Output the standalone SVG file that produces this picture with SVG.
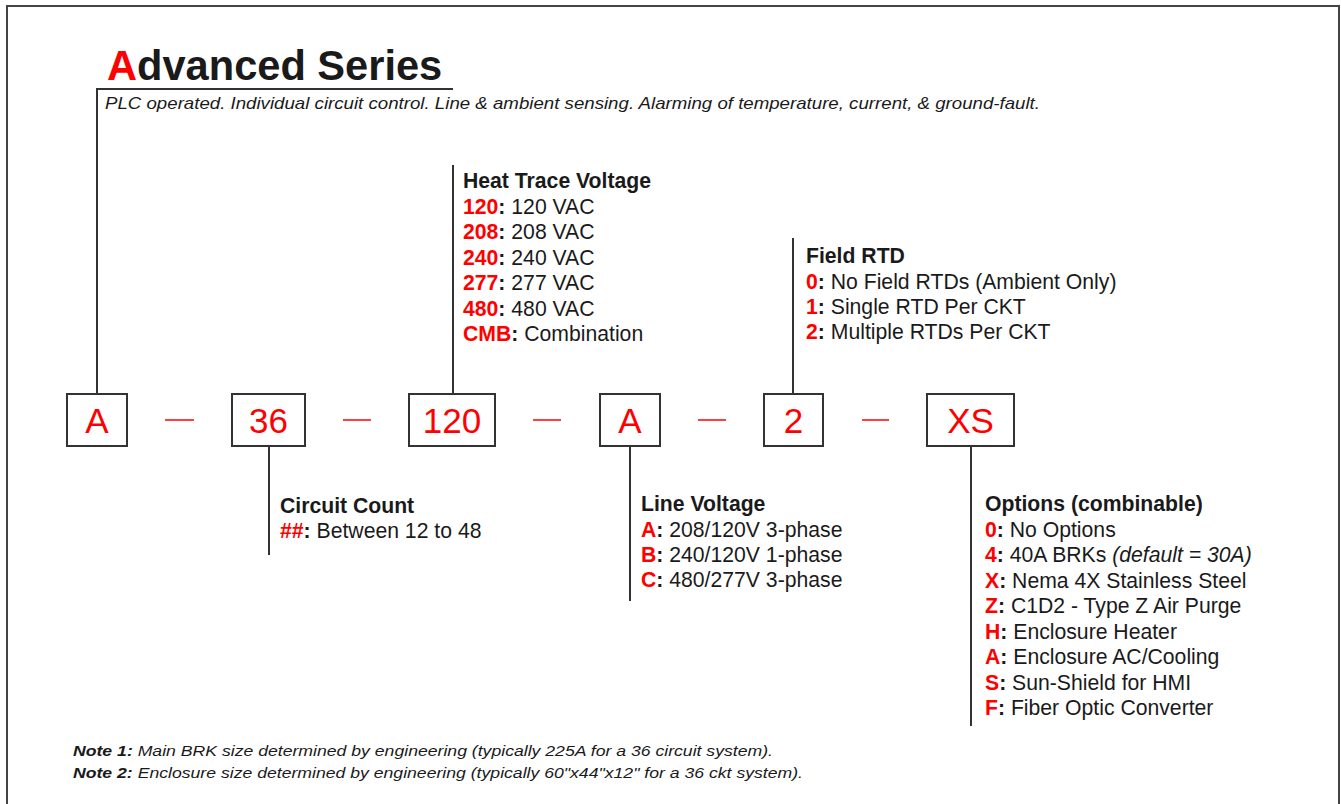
<svg xmlns="http://www.w3.org/2000/svg" width="1341" height="804" viewBox="0 0 1341 804">
<style>
text{font-family:"Liberation Sans",Arial,sans-serif;fill:#1a1a1a}
.r{fill:#ff0000}
.b{font-weight:bold}
.h{font-size:21.2px;font-weight:bold}
.t{font-size:21.2px}
.box rect{fill:#fff;stroke:#333;stroke-width:2}
.box text{font-size:35px;fill:#ff0000;text-anchor:middle}
.ln{stroke:#333;stroke-width:2;fill:none}
.dash{stroke:#ff0000;stroke-width:1.5}
</style>
<rect width="1341" height="804" fill="#fff"/>
<rect x="7" y="6" width="1332" height="820" fill="none" stroke="#444" stroke-width="2"/>
<g id="title">
<text x="107" y="80" style="font-size:41.6px;font-weight:bold"><tspan class="r">A</tspan>dvanced Series</text>
<text x="105" y="109" style="font-size:16.5px;font-style:italic" textLength="935" lengthAdjust="spacingAndGlyphs">PLC operated. Individual circuit control. Line &amp; ambient sensing. Alarming of temperature, current, &amp; ground-fault.</text>
</g>
<g id="connectors">
<polyline class="ln" points="453,89 97,89 97,395"/>
<line class="ln" x1="453" y1="165" x2="453" y2="395"/>
<line class="ln" x1="793" y1="238" x2="793" y2="395"/>
<line class="ln" x1="269" y1="446" x2="269" y2="555"/>
<line class="ln" x1="630" y1="446" x2="630" y2="601"/>
<line class="ln" x1="971" y1="446" x2="971" y2="726"/>
<line class="dash" x1="165" y1="420" x2="194" y2="420"/>
<line class="dash" x1="343" y1="420" x2="371" y2="420"/>
<line class="dash" x1="533" y1="420" x2="561" y2="420"/>
<line class="dash" x1="698" y1="420" x2="726" y2="420"/>
<line class="dash" x1="862" y1="420" x2="889" y2="420"/>
</g>
<g id="box-a" class="box"><rect x="67" y="394" width="60" height="52"/><text x="97" y="433">A</text></g>
<g id="box-36" class="box"><rect x="232" y="394" width="73" height="52"/><text x="268.5" y="433">36</text></g>
<g id="box-120" class="box"><rect x="409" y="394" width="86" height="52"/><text x="452" y="433">120</text></g>
<g id="box-a2" class="box"><rect x="600" y="394" width="60" height="52"/><text x="630" y="433">A</text></g>
<g id="box-2" class="box"><rect x="764" y="394" width="59" height="52"/><text x="793.5" y="433">2</text></g>
<g id="box-xs" class="box"><rect x="927" y="394" width="87" height="52"/><text x="970.5" y="433">XS</text></g>
<g id="heat-trace-voltage">
<text x="463" y="188" class="h">Heat Trace Voltage</text>
<text x="463" y="213.5" class="t"><tspan class="r b">120</tspan><tspan class="b">:</tspan> 120 VAC</text>
<text x="463" y="239" class="t"><tspan class="r b">208</tspan><tspan class="b">:</tspan> 208 VAC</text>
<text x="463" y="264.5" class="t"><tspan class="r b">240</tspan><tspan class="b">:</tspan> 240 VAC</text>
<text x="463" y="290" class="t"><tspan class="r b">277</tspan><tspan class="b">:</tspan> 277 VAC</text>
<text x="463" y="315.5" class="t"><tspan class="r b">480</tspan><tspan class="b">:</tspan> 480 VAC</text>
<text x="463" y="341" class="t"><tspan class="r b">CMB</tspan><tspan class="b">:</tspan> Combination</text>
</g>
<g id="field-rtd">
<text x="806" y="263" class="h">Field RTD</text>
<text x="806" y="289" class="t"><tspan class="r b">0</tspan><tspan class="b">:</tspan> No Field RTDs (Ambient Only)</text>
<text x="806" y="314" class="t"><tspan class="r b">1</tspan><tspan class="b">:</tspan> Single RTD Per CKT</text>
<text x="806" y="339" class="t"><tspan class="r b">2</tspan><tspan class="b">:</tspan> Multiple RTDs Per CKT</text>
</g>
<g id="circuit-count">
<text x="280" y="513" class="h">Circuit Count</text>
<text x="280" y="538" class="t"><tspan class="r b">##</tspan><tspan class="b">:</tspan> Between 12 to 48</text>
</g>
<g id="line-voltage">
<text x="641" y="511" class="h">Line Voltage</text>
<text x="641" y="536.5" class="t"><tspan class="r b">A</tspan><tspan class="b">:</tspan> 208/120V 3-phase</text>
<text x="641" y="562" class="t"><tspan class="r b">B</tspan><tspan class="b">:</tspan> 240/120V 1-phase</text>
<text x="641" y="587" class="t"><tspan class="r b">C</tspan><tspan class="b">:</tspan> 480/277V 3-phase</text>
</g>
<g id="options">
<text x="985" y="511" class="h">Options (combinable)</text>
<text x="985" y="536.5" class="t"><tspan class="r b">0</tspan><tspan class="b">:</tspan> No Options</text>
<text x="985" y="562" class="t"><tspan class="r b">4</tspan><tspan class="b">:</tspan> 40A BRKs <tspan font-style="italic">(default = 30A)</tspan></text>
<text x="985" y="587.5" class="t"><tspan class="r b">X</tspan><tspan class="b">:</tspan> Nema 4X Stainless Steel</text>
<text x="985" y="613" class="t"><tspan class="r b">Z</tspan><tspan class="b">:</tspan> C1D2 - Type Z Air Purge</text>
<text x="985" y="638.5" class="t"><tspan class="r b">H</tspan><tspan class="b">:</tspan> Enclosure Heater</text>
<text x="985" y="664" class="t"><tspan class="r b">A</tspan><tspan class="b">:</tspan> Enclosure AC/Cooling</text>
<text x="985" y="689.5" class="t"><tspan class="r b">S</tspan><tspan class="b">:</tspan> Sun-Shield for HMI</text>
<text x="985" y="715" class="t"><tspan class="r b">F</tspan><tspan class="b">:</tspan> Fiber Optic Converter</text>
</g>
<g id="notes">
<text x="73" y="756" style="font-size:15px;font-style:italic" textLength="700" lengthAdjust="spacingAndGlyphs"><tspan font-weight="bold">Note 1:</tspan> Main BRK size determined by engineering (typically 225A for a 36 circuit system).</text>
<text x="73" y="778" style="font-size:15px;font-style:italic" textLength="730" lengthAdjust="spacingAndGlyphs"><tspan font-weight="bold">Note 2:</tspan> Enclosure size determined by engineering (typically 60"x44"x12" for a 36 ckt system).</text>
</g>
</svg>
